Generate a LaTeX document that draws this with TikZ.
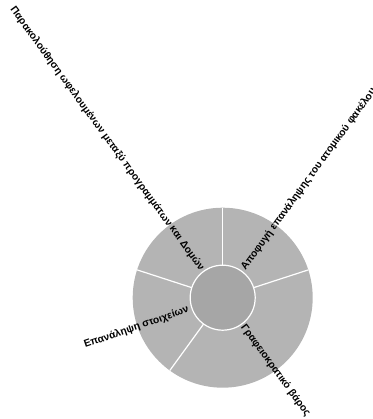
\documentclass[tikz,border=0pt]{standalone}
\usepackage{fontspec}
\setmainfont{Liberation Sans}
\definecolor{ringgray}{RGB}{180,180,180}
\definecolor{hubgray}{RGB}{166,166,166}

\begin{document}
\begin{tikzpicture}[x=0.75pt,y=0.75pt,
  slicetext/.style={font=\bfseries\fontsize{7.7}{9}\selectfont,inner sep=0pt}]
\useasboundingbox (0,0) rectangle (373,419);
\coordinate (c) at (222.7,121.3);

\fill[ringgray] (c) circle (90);
\foreach \a in {90,18,162,234}
  \draw[white,line width=0.9pt] ([shift={(\a:32)}]c) -- ([shift={(\a:90)}]c);
\filldraw[hubgray,draw=white,line width=0.9pt] (c) circle (32.5);

\node[slicetext,rotate=54,anchor=west] (avoid) at ([shift={(54:35)}]c) {Αποφυγή επανάληψης του ατομικού φακέλου};
\node[slicetext,rotate=-54,anchor=west] (burden) at ([shift={(-54:34)}]c) {Γραφειοκρατικό βάρος};
\node[slicetext,rotate=19,anchor=east] (repeat) at ([shift={(199:36)}]c) {Επανάληψη στοιχείων};
\node[slicetext,rotate=-54,anchor=east] (track) at ([shift={(126:35)}]c) {Παρακολούθηση ωφελουμένων μεταξύ προγραμμάτων και Δομών};
\end{tikzpicture}
\end{document}
